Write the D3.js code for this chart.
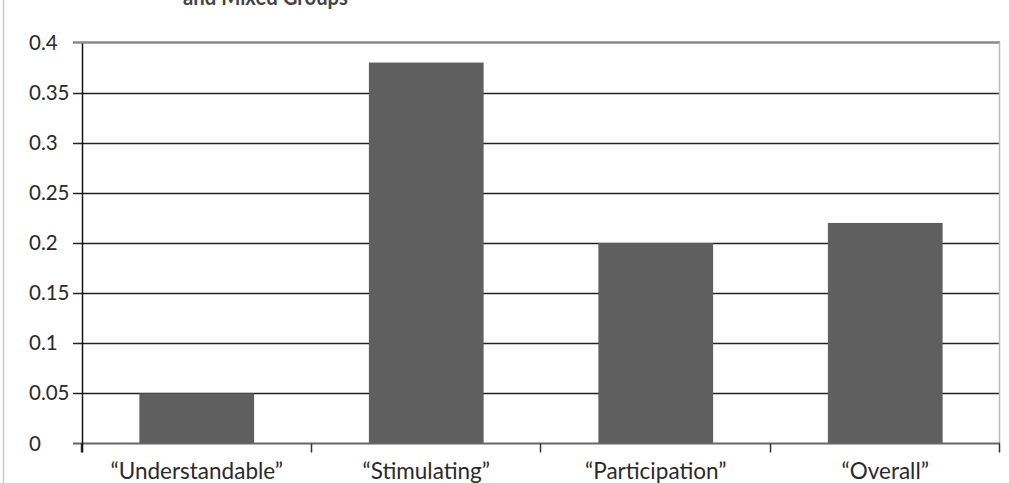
<!DOCTYPE html>
<html><head><meta charset="utf-8">
<script src="https://cdn.jsdelivr.net/npm/d3@7"></script>
<style>body{margin:0;background:#fff}svg{display:block}text{font-family:Lato,"Open Sans",sans-serif}</style>
</head><body>
<script>
const categories = ["\u201CUnderstandable\u201D","\u201CStimulating\u201D","\u201CParticipation\u201D","\u201COverall\u201D"];
const values = [0.05, 0.38, 0.2, 0.22];
const yTicks = [0, 0.05, 0.1, 0.15, 0.2, 0.25, 0.3, 0.35, 0.4];
const yTickLabels = ["0","0.05","0.1","0.15","0.2","0.25","0.3","0.35","0.4"];
const titleText = "and Mixed Groups";

const W = 1009, H = 483;
const svg = d3.select("body").append("svg").attr("width", W).attr("height", H);
const x = d3.scaleBand().domain(categories).range([82, 1000]).paddingInner(0.5).paddingOuter(0.25);
const xb = d3.scaleBand().domain(categories).range([82, 1000]);
const y = d3.scaleLinear().domain([0, 0.4]).range([443.5, 42.5]);

// left frame line
svg.append("line").attr("x1",3.5).attr("x2",3.5).attr("y1",0).attr("y2",H).attr("stroke","#c8c8c8").attr("stroke-width",1.5);

// title (cut off at the top edge, as in the reference)
svg.append("text").attr("x",183).attr("y",5)
  .attr("textLength",165).attr("lengthAdjust","spacingAndGlyphs")
  .attr("font-size",22).attr("font-weight","bold").attr("fill","#444").text(titleText);

// gridlines
svg.append("g").selectAll("line").data(yTicks.filter(d=>d>0 && d<0.4)).join("line")
  .attr("x1",73).attr("x2",1000).attr("y1",d=>Math.round(y(d))+0.5).attr("y2",d=>Math.round(y(d))+0.5)
  .attr("stroke","#222").attr("stroke-width",1.5);
// top line
svg.append("line").attr("x1",73).attr("x2",1000).attr("y1",y(0.4)).attr("y2",y(0.4)).attr("stroke","#8a8a8a").attr("stroke-width",2.5);
// right frame
svg.append("line").attr("x1",999.5).attr("x2",999.5).attr("y1",y(0.4)).attr("y2",y(0)).attr("stroke","#bbb").attr("stroke-width",1.5);

// bars
svg.append("g").selectAll("rect").data(values).join("rect")
  .attr("x",(d,i)=>x(categories[i])).attr("width",x.bandwidth())
  .attr("y",d=>y(d)).attr("height",d=>y(0)-y(d)).attr("fill","#5f5f5f");

// x axis line
svg.append("line").attr("x1",73).attr("x2",1000).attr("y1",y(0)).attr("y2",y(0)).attr("stroke","#666").attr("stroke-width",2);
// x ticks
const xt = categories.map(c=>xb(c)).concat([1000]);
svg.append("g").selectAll("line").data(xt).join("line")
  .attr("x1",d=>Math.round(d)-0.5).attr("x2",d=>Math.round(d)-0.5).attr("y1",y(0)).attr("y2",y(0)+9)
  .attr("stroke","#333").attr("stroke-width",1.5);
// y axis
svg.append("line").attr("x1",82.5).attr("x2",82.5).attr("y1",y(0.4)+1).attr("y2",y(0)+9).attr("stroke","#111").attr("stroke-width",1.5);
// y tick labels
svg.append("g").selectAll("text").data(yTicks).join("text")
  .attr("x",29).attr("y",d=>y(d)+7).attr("font-size",20.5).attr("fill","#2a2a2a")
  .text((d,i)=>yTickLabels[i]);
// x labels
svg.append("g").selectAll("text").data(categories).join("text")
  .attr("x",c=>xb(c)+xb.bandwidth()/2).attr("y",479).attr("text-anchor","middle")
  .attr("font-size",22.5).attr("fill","#2a2a2a").text(c=>c);
</script>
</body></html>
